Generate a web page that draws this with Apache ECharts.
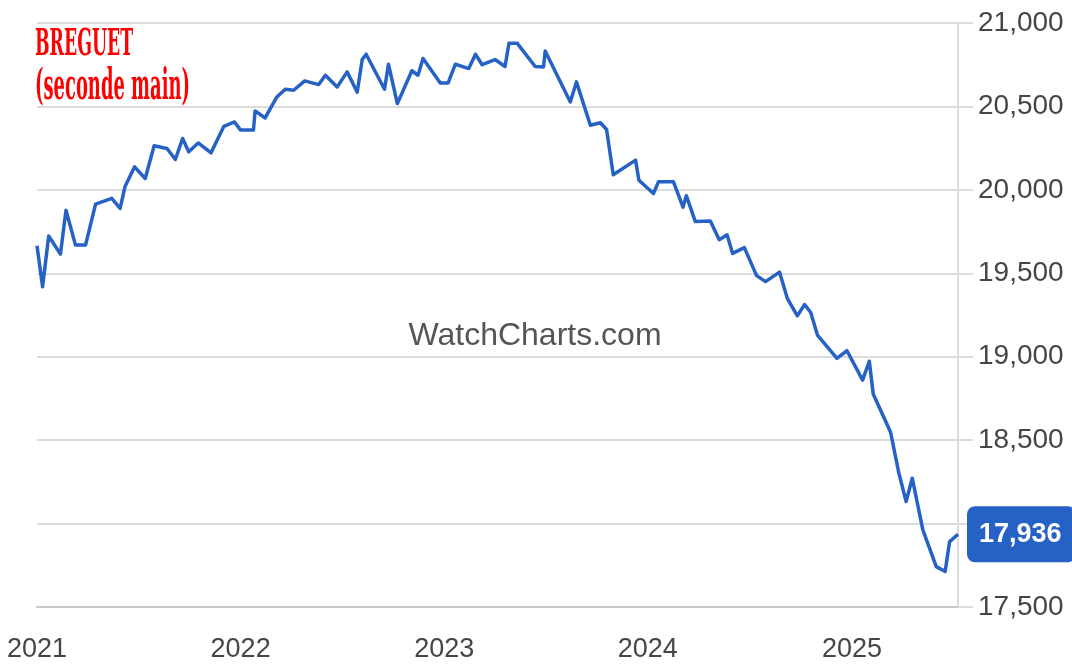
<!DOCTYPE html>
<html>
<head>
<meta charset="utf-8">
<script src="https://cdn.jsdelivr.net/npm/echarts@6/dist/echarts.min.js"></script>
<style>
  html, body { margin: 0; padding: 0; background: #fff; }
  #chart { width: 1072px; height: 670px; }
</style>
</head>
<body>
<div id="chart"></div>
<script>
// ---- Data ----
const titleLine1 = 'BREGUET';
const titleLine2 = '(seconde main)';
const watermark = 'WatchCharts.com';

const dates = [
  '2021-01-01','2021-01-11','2021-01-22','2021-02-12','2021-02-22','2021-03-11','2021-03-29','2021-04-16',
  '2021-05-15','2021-05-30','2021-06-08','2021-06-25','2021-07-14','2021-07-30','2021-08-22','2021-09-06',
  '2021-09-19','2021-09-30','2021-10-17','2021-11-09','2021-12-02','2021-12-21',
  '2022-01-01','2022-01-24','2022-01-27','2022-02-14','2022-03-07','2022-03-22','2022-04-06','2022-04-26',
  '2022-05-21','2022-06-02','2022-06-23','2022-07-11','2022-07-29','2022-08-07','2022-08-14','2022-09-16',
  '2022-09-23','2022-10-09','2022-11-04','2022-11-15','2022-11-24','2022-12-25',
  '2023-01-08','2023-01-21','2023-02-14','2023-02-26','2023-03-10','2023-04-02','2023-04-20','2023-04-27',
  '2023-05-12','2023-06-13','2023-06-28','2023-07-01','2023-08-15','2023-08-26','2023-09-20','2023-10-08',
  '2023-10-19','2023-10-31','2023-12-10','2023-12-16',
  '2024-01-11','2024-01-20','2024-02-16','2024-03-04','2024-03-10','2024-03-26','2024-04-22','2024-05-08',
  '2024-05-22','2024-06-01','2024-06-22','2024-07-14','2024-07-30','2024-08-24','2024-09-07','2024-09-25',
  '2024-10-08','2024-10-19','2024-10-31','2024-12-05','2024-12-23',
  '2025-01-20','2025-02-01','2025-02-08','2025-03-11','2025-03-26','2025-04-08','2025-04-19','2025-05-08',
  '2025-06-01','2025-06-17','2025-06-25','2025-07-10'
];

const prices = [
  19665,19419,19723,19615,19878,19669,19669,19914,
  19949,19889,20022,20138,20068,20264,20248,20182,
  20308,20228,20281,20222,20381,20407,
  20358,20358,20473,20431,20557,20603,20597,20653,
  20631,20687,20617,20707,20585,20781,20813,20603,
  20753,20517,20714,20687,20787,20641,
  20641,20753,20727,20813,20750,20781,20739,20878,
  20878,20739,20737,20832,20527,20647,20387,20402,
  20362,20091,20178,20058,
  19978,20048,20048,19896,19965,19811,19813,19701,
  19731,19619,19654,19486,19450,19507,19350,19245,
  19313,19265,19130,18990,19036,
  18860,18973,18777,18549,18302,18132,18272,17962,
  17742,17713,17892,17936
];

const yMin = 17500, yMax = 21000, yStep = 500;
const xStart = '2021-01-01', xEnd = '2025-07-10';

// ---- Chart ----
const seriesData = dates.map((d, i) => [d, prices[i]]);
const fmt = v => Number(v).toLocaleString('en-US');

function measure(text, font) {
  const c = document.createElement('canvas').getContext('2d');
  c.font = font;
  return c.measureText(text).width;
}
const titleFont = '"DejaVu Serif", "Liberation Serif", serif';
const t1Size = 37, t2Size = 42;
const t1Scale = 98 / measure(titleLine1, 'bold ' + t1Size + 'px ' + titleFont);
const t2Scale = 155 / measure(titleLine2, 'bold ' + t2Size + 'px ' + titleFont);

const chart = echarts.init(document.getElementById('chart'), null, { renderer: 'canvas' });
const blue = '#2661c6';
const axisFont = '"Liberation Sans", Arial, Helvetica, sans-serif';

chart.setOption({
  animation: false,
  backgroundColor: '#ffffff',
  grid: { left: 37, right: 114, top: 23, bottom: 63, containLabel: false },
  xAxis: {
    type: 'time',
    min: xStart,
    max: xEnd,
    minInterval: 365 * 24 * 3600 * 1000,
    axisLine: { show: true, lineStyle: { color: '#c8c8c8', width: 2 } },
    axisTick: { show: false },
    splitLine: { show: false },
    axisLabel: {
      formatter: '{yyyy}',
      fontFamily: axisFont,
      fontSize: 27,
      color: '#454545',
      margin: 29,
      hideOverlap: false
    }
  },
  yAxis: {
    type: 'value',
    position: 'right',
    min: yMin,
    max: yMax,
    interval: yStep,
    axisLine: { show: true, lineStyle: { color: '#dcdcdc', width: 2 } },
    axisTick: { show: true, length: 15, lineStyle: { color: '#dcdcdc', width: 2 } },
    splitLine: { show: true, lineStyle: { color: '#dcdcdc', width: 2 } },
    axisLabel: {
      formatter: v => fmt(v),
      fontFamily: axisFont,
      fontSize: 28,
      color: '#454545',
      margin: 20
    }
  },
  graphic: [
    {
      type: 'text', x: 535, y: 336, z: 0,
      style: { text: watermark, fill: '#555555', font: '32px ' + axisFont, textAlign: 'center', textVerticalAlign: 'middle' }
    },
    {
      type: 'text', x: 35, y: 45, scaleX: t1Scale, z: 10,
      style: { text: titleLine1, fill: '#ff0000', font: 'bold ' + t1Size + 'px ' + titleFont, textAlign: 'left', textVerticalAlign: 'middle' }
    },
    {
      type: 'text', x: 35, y: 88, scaleX: t2Scale, z: 10,
      style: { text: titleLine2, fill: '#ff0000', font: 'bold ' + t2Size + 'px ' + titleFont, textAlign: 'left', textVerticalAlign: 'middle' }
    }
  ],
  series: [{
    type: 'line',
    data: seriesData,
    showSymbol: false,
    symbol: 'none',
    smooth: false,
    lineStyle: { color: blue, width: 3.5, join: 'round' },
    endLabel: {
      show: true,
      formatter: p => fmt(p.value[1]),
      color: '#ffffff',
      fontFamily: axisFont,
      fontWeight: 'bold',
      fontSize: 27,
      backgroundColor: blue,
      borderRadius: 8,
      padding: [15, 14, 14, 12],
      distance: 9
    }
  }]
});
</script>
</body>
</html>
